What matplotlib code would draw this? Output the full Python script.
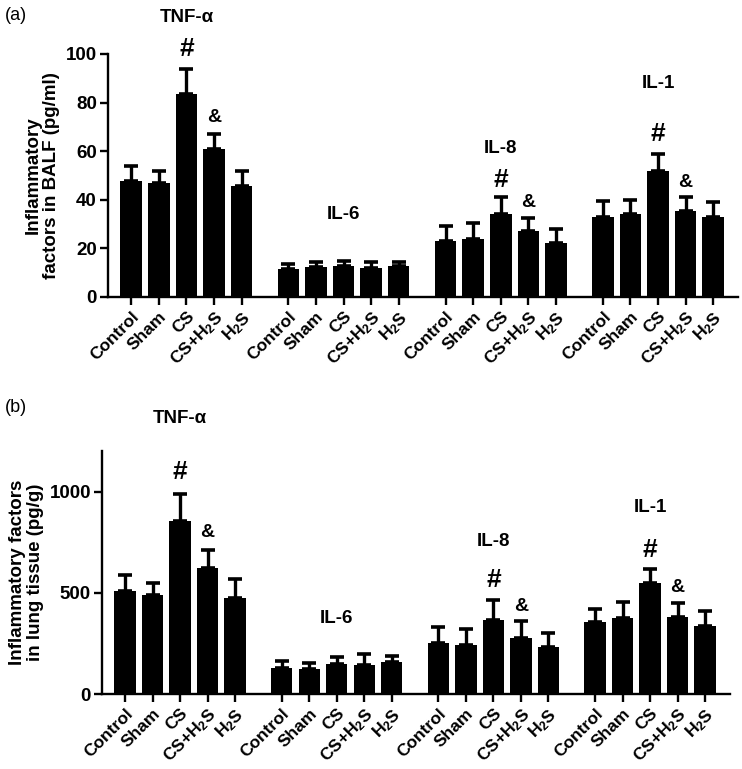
import numpy as np
import matplotlib
matplotlib.use('Agg')
import matplotlib.pyplot as plt

plt.rcParams['font.family'] = ['Liberation Sans', 'DejaVu Sans']
plt.rcParams['mathtext.default'] = 'regular'

groups = ['TNF-α', 'IL-6', 'IL-8', 'IL-1']
conditions = ['Control', 'Sham', 'CS', 'CS+H$_2$S', 'H$_2$S']

# panel (a): BALF, pg/ml (mean, upper error)
balf_tnf = [47.7, 47.0, 83.5, 61.0, 45.7]
balf_tnf_err = [6.3, 5.0, 10.5, 6.0, 6.3]
balf_il6 = [11.5, 12.3, 12.6, 11.8, 12.6]
balf_il6_err = [2.1, 2.2, 2.4, 2.7, 1.7]
balf_il8 = [23.0, 23.8, 34.0, 27.0, 22.2]
balf_il8_err = [6.3, 6.6, 7.2, 5.5, 5.8]
balf_il1 = [33.0, 34.2, 51.9, 35.2, 33.0]
balf_il1_err = [6.4, 5.8, 6.9, 6.0, 6.0]

# panel (b): lung tissue, pg/g
lung_tnf = [510, 490, 856, 624, 475]
lung_tnf_err = [79, 60, 134, 89, 94]
lung_il6 = [129, 124, 149, 144, 158]
lung_il6_err = [34, 29, 34, 54, 30]
lung_il8 = [252, 243, 366, 277, 233]
lung_il8_err = [80, 79, 99, 84, 69]
lung_il1 = [356, 373, 550, 381, 337]
lung_il1_err = [65, 82, 69, 69, 74]

fig = plt.figure(figsize=(7.42, 7.69), dpi=100)


def draw_panel(ax, means, errs, ylim, yticks, ylabel, label_y, hash_y, amp_y):
    stride = 5.7
    xs_all, labels_all = [], []
    for g, (m, e) in enumerate(zip(means, errs)):
        xs = g * stride + np.arange(5)
        ax.bar(xs, m, width=0.78, color='black', zorder=2)
        ax.errorbar(xs, m, yerr=[np.zeros(5), e], fmt='none', ecolor='black',
                    elinewidth=2.4, capsize=4.8, capthick=2.6, zorder=1)
        ax.text(xs[2], label_y[g], groups[g], ha='center', va='center',
                fontsize=13.5, fontweight='bold')
        # significance marks (none for IL-6)
        if hash_y[g] is not None:
            ax.text(xs[2], hash_y[g], '#', ha='center', va='center',
                    fontsize=19, fontweight='bold')
        if amp_y[g] is not None:
            ax.text(xs[3], amp_y[g], '&', ha='center', va='center',
                    fontsize=14, fontweight='bold')
        xs_all.extend(xs)
        labels_all.extend(conditions)
    ax.set_xticks(xs_all)
    ax.set_xticklabels(labels_all, rotation=45, ha='right', rotation_mode='anchor',
                       fontsize=12.5, fontweight='bold')
    ax.set_ylim(*ylim)
    ax.set_yticks(yticks)
    ax.set_yticklabels([str(t) for t in yticks], fontsize=13.5, fontweight='bold')
    ax.set_ylabel(ylabel, fontsize=13.5, fontweight='bold', linespacing=1.1)
    for s in ['top', 'right']:
        ax.spines[s].set_visible(False)
    for s in ['left', 'bottom']:
        ax.spines[s].set_linewidth(1.7)
    ax.tick_params(axis='both', width=1.7, length=6, pad=2)
    ax.tick_params(axis='x', pad=2.5)


ax1 = fig.add_axes([0.1456, 0.6138, 0.849, 0.316])
ax1.set_xlim(-0.84, 22.0)
draw_panel(ax1,
           [balf_tnf, balf_il6, balf_il8, balf_il1],
           [balf_tnf_err, balf_il6_err, balf_il8_err, balf_il1_err],
           (0, 100), [0, 20, 40, 60, 80, 100],
           'Inflammatory\nfactors in BALF (pg/ml)',
           [115, 34, 61, 88], [102, None, 48, 67], [74, None, 39, 47])

ax2 = fig.add_axes([0.1375, 0.0975, 0.846, 0.316])
ax2.set_xlim(-0.84, 22.0)
draw_panel(ax2,
           [lung_tnf, lung_il6, lung_il8, lung_il1],
           [lung_tnf_err, lung_il6_err, lung_il8_err, lung_il1_err],
           (0, 1200), [0, 500, 1000],
           'Inflammatory factors\nin lung tissue (pg/g)',
           [1361, 371, 752, 921], [1094, None, 564, 713], [797, None, 431, 525])

fig.text(0.006, 1 - 15 / 769, '(a)', fontsize=13, va='center')
fig.text(0.006, 1 - 407 / 769, '(b)', fontsize=13, va='center')

fig.savefig('out.png', dpi=100)
